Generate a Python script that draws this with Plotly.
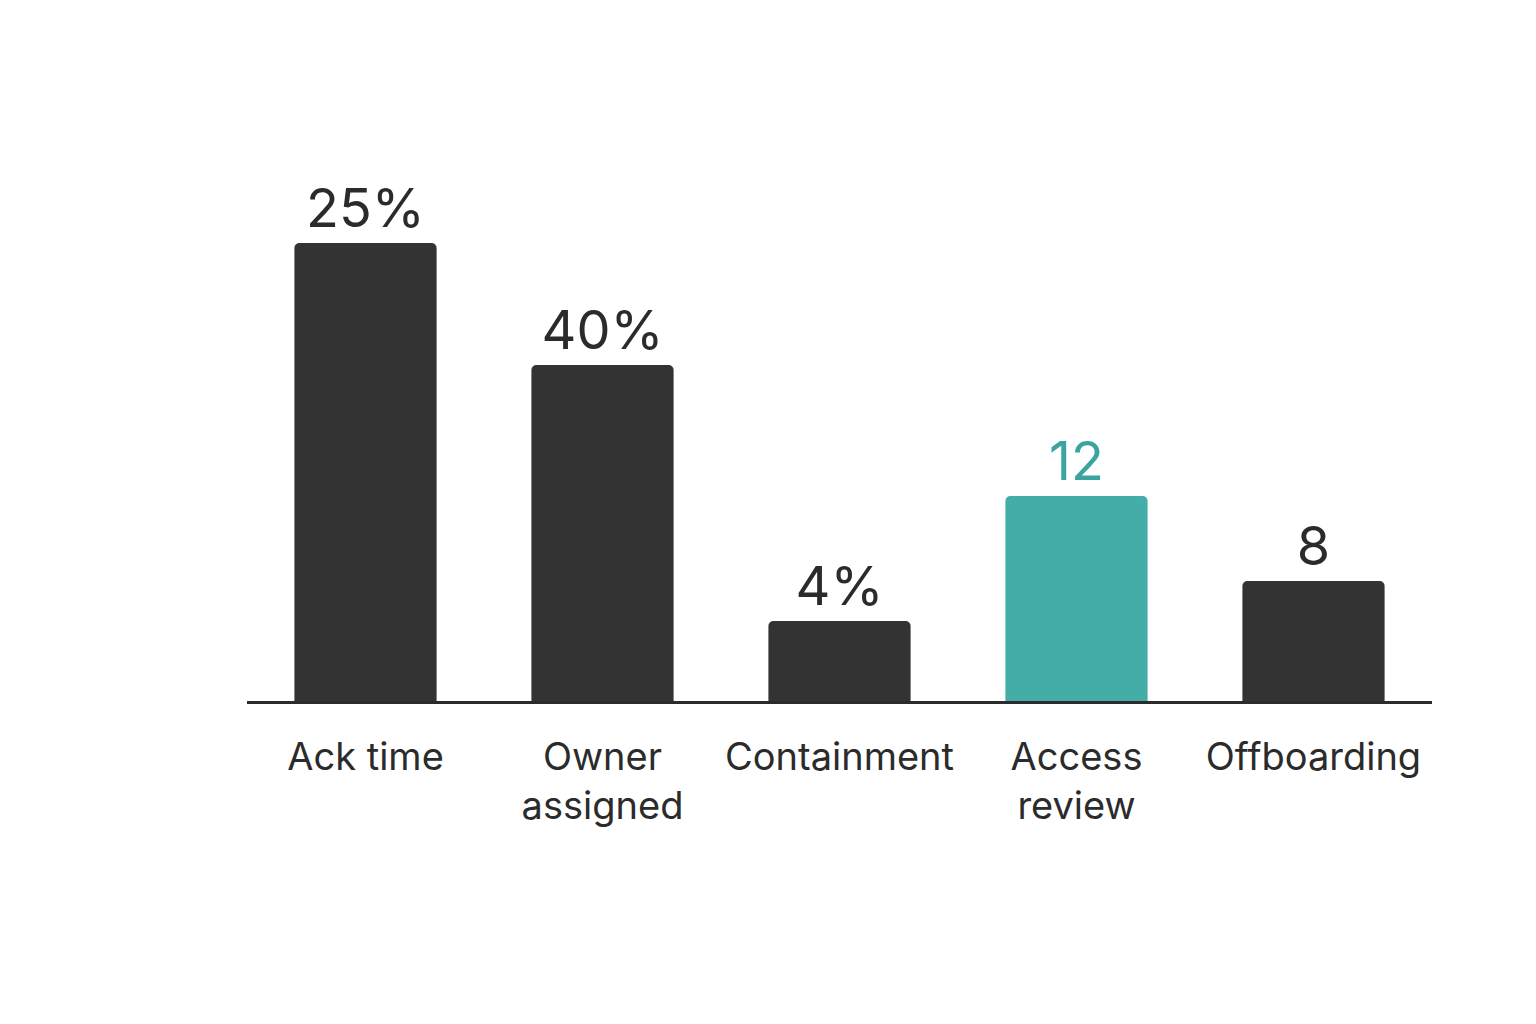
import plotly.graph_objects as go

categories = ["Ack time", "Owner<br>assigned", "Containment", "Access<br>review", "Offboarding"]
bar_heights = [458, 336, 80, 205, 120]
value_labels = ["25%", "40%", "4%", "12", "8"]
bar_colors = ["#333333", "#333333", "#333333", "#45ADA8", "#333333"]
label_colors = ["#2b2b2b", "#2b2b2b", "#2b2b2b", "#3AA5A0", "#2b2b2b"]

fig = go.Figure()
fig.add_trace(go.Bar(
    x=categories, y=bar_heights,
    marker=dict(color=bar_colors, cornerradius=5, line=dict(width=0)),
    width=0.6,
    text=value_labels, textposition="outside",
    textfont=dict(size=54, color=label_colors, family="Inter"),
    cliponaxis=False,
))

fig.update_layout(
    template="plotly_white",
    width=1536, height=1024,
    margin=dict(l=239, r=112, t=100, b=331),
    showlegend=False,
    plot_bgcolor="white", paper_bgcolor="white",
    font=dict(family="Inter", color="#2b2b2b"),
)
fig.update_xaxes(showline=True, linecolor="#2b2b2b", linewidth=3, showgrid=False,
                 ticks="", tickfont=dict(size=38, color="#2b2b2b"), ticklabelstandoff=20)
fig.update_yaxes(visible=False, range=[0, 593], showgrid=False)

fig.write_html("out.html")
